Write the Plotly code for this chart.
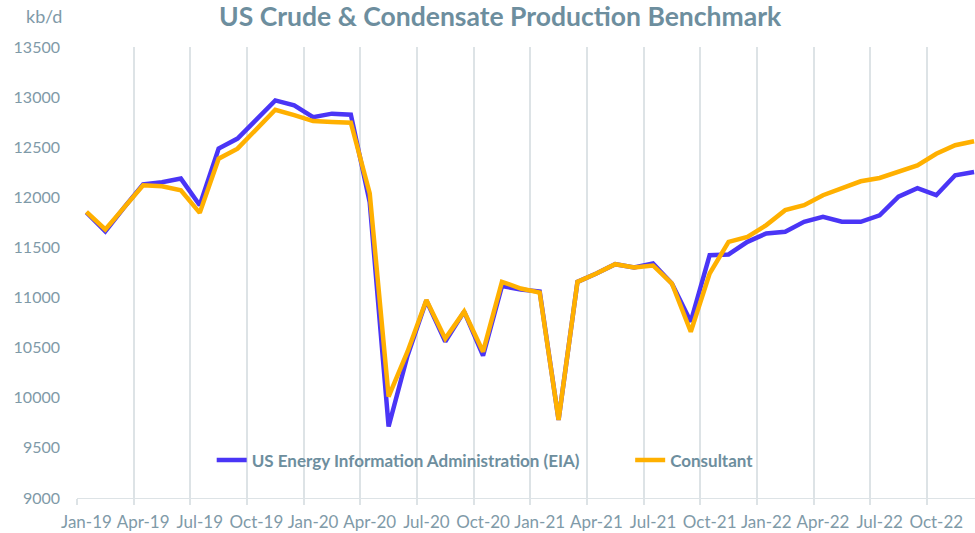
import plotly.graph_objects as go

months = ["Jan-19","Feb-19","Mar-19","Apr-19","May-19","Jun-19","Jul-19","Aug-19","Sep-19","Oct-19","Nov-19","Dec-19",
          "Jan-20","Feb-20","Mar-20","Apr-20","May-20","Jun-20","Jul-20","Aug-20","Sep-20","Oct-20","Nov-20","Dec-20",
          "Jan-21","Feb-21","Mar-21","Apr-21","May-21","Jun-21","Jul-21","Aug-21","Sep-21","Oct-21","Nov-21","Dec-21",
          "Jan-22","Feb-22","Mar-22","Apr-22","May-22","Jun-22","Jul-22","Aug-22","Sep-22","Oct-22","Nov-22","Dec-22"]

eia = [11850, 11660, 11900, 12130, 12150, 12187, 11921, 12486, 12586, 12780, 12967, 12917,
       12800, 12835, 12825, 11950, 9713, 10420, 10970, 10560, 10860, 10420, 11114, 11080,
       11060, 9780, 11157, 11240, 11333, 11300, 11340, 11140, 10759, 11423, 11430, 11556,
       11640, 11656, 11756, 11806, 11756, 11756, 11821, 12007, 12091, 12021, 12220, 12253]

consultant = [11855, 11680, 11900, 12120, 12110, 12070, 11845, 12386, 12486, 12680, 12874, 12820,
              12761, 12751, 12745, 12040, 10012, 10460, 10975, 10590, 10860, 10460, 11157, 11090,
              11050, 9780, 11157, 11240, 11333, 11300, 11320, 11140, 10659, 11240, 11556, 11606,
              11723, 11872, 11921, 12021, 12087, 12160, 12193, 12253, 12319, 12435, 12520, 12559]

y_ticks = [9000, 9500, 10000, 10500, 11000, 11500, 12000, 12500, 13000, 13500]
x_label_idx = list(range(0, 48, 3))

FONT = "Lato"
TXT = "#7f9aa8"
TITLE_C = "#6d8e9e"
GRID = "#dde3e6"

idx = list(range(len(months)))

fig = go.Figure()
fig.add_trace(go.Scatter(x=idx, y=eia, mode="lines", name="US Energy Information Administration (EIA)",
                         line=dict(color="#4a35f6", width=4.5), legend="legend"))
fig.add_trace(go.Scatter(x=idx, y=consultant, mode="lines", name="Consultant",
                         line=dict(color="#ffb000", width=4.5), legend="legend2"))

leg_common = dict(orientation="h", xanchor="left", yanchor="middle", bgcolor="rgba(0,0,0,0)",
                  font=dict(family=FONT, size=17, color=TITLE_C, weight="bold"), itemwidth=30)

fig.update_layout(
    width=975, height=533,
    margin=dict(l=77, r=0, t=47, b=35),
    paper_bgcolor="white", plot_bgcolor="white",
    font=dict(family=FONT, color=TXT, size=16),
    title=dict(text="<b>US Crude & Condensate Production Benchmark</b>",
               x=0.513, xanchor="center", y=0.969, yanchor="middle",
               font=dict(family=FONT, size=26.5, color=TITLE_C)),
    showlegend=True,
    legend=dict(x=0.150, y=0.083, **leg_common),
    legend2=dict(x=0.616, y=0.083, **leg_common),
    xaxis=dict(range=[-0.5, 47.05], showgrid=False, zeroline=False, automargin=False,
               tickmode="array", tickvals=x_label_idx, ticktext=[months[i] for i in x_label_idx],
               ticks="", showline=True, linecolor=GRID, linewidth=1, ticklabelstandoff=9,
               tickfont=dict(family=FONT, size=17, color=TXT),
               minor=dict(tickmode="linear", tick0=-0.5, dtick=3, showgrid=True, gridcolor=GRID,
                          gridwidth=2, ticks="outside", ticklen=6, tickcolor=GRID, tickwidth=2)),
    yaxis=dict(range=[9000, 13500], tickmode="array", tickvals=y_ticks,
               ticktext=[str(v) for v in y_ticks], showgrid=False, automargin=False,
               zeroline=False, showline=False, ticks="", ticklabelstandoff=16,
               tickfont=dict(family=FONT, size=16, color=TXT)),
)

fig.add_annotation(text="kb/d", xref="paper", yref="paper", x=-0.0145, y=1.0, yshift=31,
                   xanchor="right", yanchor="middle", showarrow=False,
                   font=dict(family=FONT, size=18, color=TXT))

fig.write_html("out.html", config={"displayModeBar": False},
               post_script="document.body.style.margin='0';document.body.style.overflow='hidden';")
